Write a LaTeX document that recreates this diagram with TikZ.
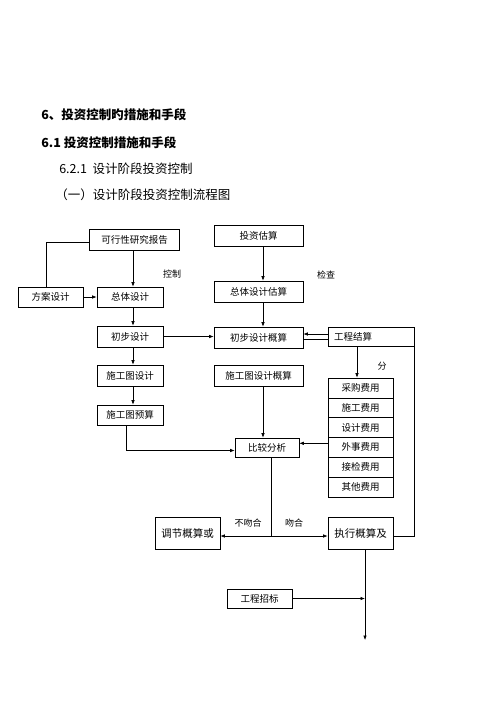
\documentclass[tikz,border=0pt]{standalone}
\usepackage{fontspec}
\usepackage{tikz}
\usetikzlibrary{arrows.meta}
\setmainfont{Noto Sans CJK SC}

\begin{document}
\begin{tikzpicture}[x=1pt, y=-1pt, line width=0.6pt,
  box/.style={rectangle, draw, inner sep=0pt, font=\fontsize{9.5}{10}\selectfont},
  flow/.style={-{Latex[length=4.5pt,width=3.5pt]}},
  note/.style={font=\fontsize{9}{10}\selectfont},
  head/.style={anchor=west, inner sep=0pt, font=\fontsize{12.5}{14}\selectfont}]
\useasboundingbox (0,0) rectangle (500,707);
\node[head, font=\fontsize{12.5}{14}\selectfont\bfseries] (title1) at (41,115) {6、投资控制旳措施和手段};
\node[head, font=\fontsize{12.5}{14}\selectfont\bfseries] (title2) at (41,143) {6.1 投资控制措施和手段};
\node[head] (title3) at (59,169) {6.2.1\ \ 设计阶段投资控制};
\node[head] (title4) at (55,195) {（一）设计阶段投资控制流程图};
\node[box, minimum width=90pt, minimum height=21pt] (report) at (134.5,240) {可行性研究报告};
\node[box, minimum width=65pt, minimum height=20pt] (scheme) at (50.5,297) {方案设计};
\node[box, minimum width=66pt, minimum height=20pt] (overall) at (130,297) {总体设计};
\node[box, minimum width=66pt, minimum height=21pt] (prelim) at (130,336.5) {初步设计};
\node[box, minimum width=66pt, minimum height=21pt] (drawing) at (130,375.5) {施工图设计};
\node[box, minimum width=66pt, minimum height=20pt] (budget) at (130,415) {施工图预算};
\node[box, minimum width=89pt, minimum height=21pt] (estimate) at (258.5,235.5) {投资估算};
\node[box, minimum width=89pt, minimum height=21pt] (overallest) at (258.5,291.5) {总体设计估算};
\node[box, minimum width=89pt, minimum height=21pt] (prelimest) at (258.5,337.5) {初步设计概算};
\node[box, minimum width=89pt, minimum height=21pt] (drawingest) at (258.5,375.5) {施工图设计概算};
\node[box, minimum width=86pt, minimum height=19pt, text width=74pt, inner xsep=6pt, align=left] (settle) at (371,336.5) {工程结算};
\foreach \name [count=\i] in {采购费用,施工费用,设计费用,外事费用,接检费用,其他费用}
  \node[box, minimum width=65pt, minimum height=19.8pt] (cost\i) at (360.5,368.1+19.8*\i) {\name};
\node[box, minimum width=64pt, minimum height=19pt] (compare) at (267,447.5) {比较分析};
\node[box, minimum width=65pt, minimum height=32pt, font=\fontsize{10.5}{12}\selectfont] (adjust) at (187.5,533) {调节概算或};
\node[box, minimum width=65pt, minimum height=32pt, font=\fontsize{10.5}{12}\selectfont] (execute) at (360.5,533) {执行概算及};
\node[box, minimum width=65pt, minimum height=19pt] (tender) at (259.5,598.5) {工程招标};
\node[note] (control) at (172,274) {控制};
\node[note] (check) at (326,275) {检查};
\node[note] (divide) at (382,366) {分};
\node[note] (nomatch) at (248,523) {不吻合};
\node[note] (match) at (294,523) {吻合};
\coordinate (split) at (271,536);
\coordinate (finish) at (365,640);
\draw ([xshift=-4pt]scheme.north) |- ([yshift=-2pt]report.west);
\draw[flow] (scheme) -- (overall);
\draw[flow] (report.south -| 133,0) -- (overall.north -| 133,0);
\draw[flow] (overall.south -| 133,0) -- (prelim.north -| 133,0);
\draw[flow] (prelim.south -| 133,0) -- (drawing.north -| 133,0);
\draw[flow] (drawing.south -| 133,0) -- (budget.north -| 133,0);
\draw[flow] (prelim) -- (prelim -| prelimest.west);
\draw[flow] ([xshift=-4pt]budget.south) |- ([yshift=-3pt]compare.west);
\draw[flow] (estimate.south -| 263,0) -- (overallest.north -| 263,0);
\draw[flow] (overallest.south -| 263,0) -- (prelimest.north -| 263,0);
\draw[flow] (drawingest.south -| 263,0) -- (compare.north -| 263,0);
\draw[flow] ([yshift=2.5pt]settle.west) -- ([yshift=2.5pt]settle.west -| prelimest.east);
\draw ([yshift=-2.5pt]settle.west) -- ([yshift=-2.5pt]settle.west -| prelimest.east);
\draw[flow] ([xshift=-14pt]settle.south) -- ([xshift=-14pt]settle.south |- cost1.north);
\draw (settle.south east) |- ([yshift=-3pt]execute.east);
\draw[flow] ([yshift=4pt]cost4.west) -- ([yshift=4pt]cost4.west -| compare.east);
\draw (compare.south -| split) -- (split);
\draw[flow] (split) -- (split -| adjust.east);
\draw[flow] (split) -- (split -| execute.west);
\draw[flow] (execute.south -| finish) -- (finish);
\draw[flow] (tender) -- (tender -| finish);
\end{tikzpicture}
\end{document}
